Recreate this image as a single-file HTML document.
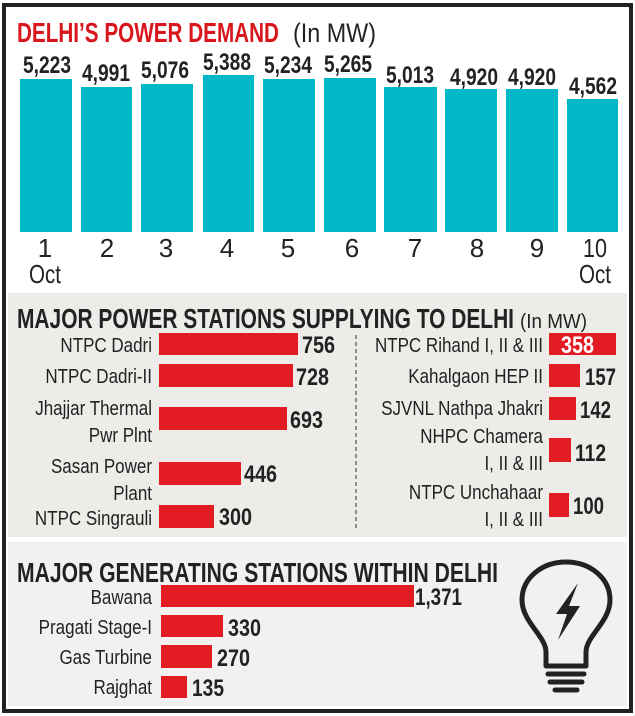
<!DOCTYPE html>
<html><head><meta charset="utf-8"><style>
html,body{margin:0;padding:0;background:#fff}
svg{display:block}
text{font-family:"Liberation Sans",sans-serif}
.v{font-weight:bold;font-size:24px;fill:#222}
.d{font-size:26px;fill:#222}
.l{font-size:20px;fill:#222}
.h{font-weight:bold;font-size:28px;fill:#222}
</style></head><body>
<svg width="635" height="716" viewBox="0 0 635 716" xmlns="http://www.w3.org/2000/svg">
<rect x="0" y="0" width="635" height="716" fill="#fff"/>
<rect x="8" y="293" width="619" height="244" fill="#eeece9"/>
<rect x="8" y="542" width="619" height="164" fill="#f3f1ef"/>
<rect x="4" y="5" width="627" height="706" fill="none" stroke="#222" stroke-width="4"/>
<text x="17" y="42" font-weight="bold" font-size="28" fill="#d9161c" textLength="262" lengthAdjust="spacingAndGlyphs">DELHI’S POWER DEMAND</text>
<text x="293" y="42" font-size="27" fill="#222" textLength="83" lengthAdjust="spacingAndGlyphs">(In MW)</text>
<g fill="#00b8c8">
<rect x="20" y="79" width="52" height="153"/>
<rect x="81" y="87" width="51" height="145"/>
<rect x="141" y="84" width="52" height="148"/>
<rect x="203" y="75" width="51" height="157"/>
<rect x="263" y="79" width="52" height="153"/>
<rect x="324" y="78" width="52" height="154"/>
<rect x="384" y="87" width="53" height="145"/>
<rect x="445" y="89" width="52" height="143"/>
<rect x="506" y="89" width="52" height="143"/>
<rect x="567" y="99" width="51" height="133"/>
</g>
<g class="v" text-anchor="middle">
<text x="47" y="73" textLength="48" lengthAdjust="spacingAndGlyphs">5,223</text>
<text x="106" y="81" textLength="48" lengthAdjust="spacingAndGlyphs">4,991</text>
<text x="165" y="78" textLength="48" lengthAdjust="spacingAndGlyphs">5,076</text>
<text x="227" y="70" textLength="48" lengthAdjust="spacingAndGlyphs">5,388</text>
<text x="288" y="73" textLength="48" lengthAdjust="spacingAndGlyphs">5,234</text>
<text x="348" y="72" textLength="48" lengthAdjust="spacingAndGlyphs">5,265</text>
<text x="410" y="83" textLength="48" lengthAdjust="spacingAndGlyphs">5,013</text>
<text x="474" y="85" textLength="48" lengthAdjust="spacingAndGlyphs">4,920</text>
<text x="532" y="85" textLength="48" lengthAdjust="spacingAndGlyphs">4,920</text>
<text x="593" y="94" textLength="48" lengthAdjust="spacingAndGlyphs">4,562</text>
</g>
<g class="d" text-anchor="middle">
<text x="45" y="257">1</text><text x="107" y="257">2</text><text x="166" y="257">3</text>
<text x="227" y="257">4</text><text x="288" y="257">5</text><text x="352" y="257">6</text>
<text x="415" y="257">7</text><text x="477" y="257">8</text><text x="537" y="257">9</text>
<text x="595" y="257" textLength="24" lengthAdjust="spacingAndGlyphs">10</text>
<text x="45" y="283" textLength="32" lengthAdjust="spacingAndGlyphs">Oct</text>
<text x="595" y="283" textLength="32" lengthAdjust="spacingAndGlyphs">Oct</text>
</g>
<text x="17" y="328" class="h" textLength="497" lengthAdjust="spacingAndGlyphs">MAJOR POWER STATIONS SUPPLYING TO DELHI</text>
<text x="520" y="328" font-size="20" fill="#222" textLength="67" lengthAdjust="spacingAndGlyphs">(In MW)</text>
<g fill="#e31b23">
<rect x="159" y="333" width="139" height="22"/>
<rect x="159" y="364" width="134" height="23"/>
<rect x="159" y="407" width="128" height="23"/>
<rect x="159" y="462" width="82" height="23"/>
<rect x="159" y="505" width="55" height="23"/>
<rect x="549" y="333" width="67" height="22"/>
<rect x="549" y="364" width="31" height="23"/>
<rect x="549" y="397" width="27" height="23"/>
<rect x="549" y="438" width="22" height="24"/>
<rect x="549" y="493" width="20" height="24"/>
</g>
<line x1="356" y1="335" x2="356" y2="530" stroke="#333" stroke-width="1" stroke-dasharray="4,3"/>
<g class="l" text-anchor="end" transform="translate(152,0) scale(0.85,1)">
<text x="0" y="352">NTPC Dadri</text>
<text x="0" y="383">NTPC Dadri-II</text>
<text x="0" y="415">Jhajjar Thermal</text>
<text x="0" y="442">Pwr Plnt</text>
<text x="0" y="473">Sasan Power</text>
<text x="0" y="500">Plant</text>
<text x="0" y="525">NTPC Singrauli</text>
</g>
<g class="l" text-anchor="end" transform="translate(543,0) scale(0.85,1)">
<text x="0" y="352">NTPC Rihand I, II &amp; III</text>
<text x="0" y="383">Kahalgaon HEP II</text>
<text x="0" y="415">SJVNL Nathpa Jhakri</text>
<text x="0" y="443">NHPC Chamera</text>
<text x="0" y="470">I, II &amp; III</text>
<text x="0" y="499">NTPC Unchahaar</text>
<text x="0" y="526">I, II &amp; III</text>
</g>
<g class="v">
<text x="302" y="353" textLength="33" lengthAdjust="spacingAndGlyphs">756</text>
<text x="296" y="385" textLength="33" lengthAdjust="spacingAndGlyphs">728</text>
<text x="290" y="428" textLength="33" lengthAdjust="spacingAndGlyphs">693</text>
<text x="244" y="482" textLength="33" lengthAdjust="spacingAndGlyphs">446</text>
<text x="219" y="525" textLength="33" lengthAdjust="spacingAndGlyphs">300</text>
<text x="561" y="353" fill="#fff" textLength="33" lengthAdjust="spacingAndGlyphs">358</text>
<text x="585" y="385" textLength="31" lengthAdjust="spacingAndGlyphs">157</text>
<text x="580" y="418" textLength="31" lengthAdjust="spacingAndGlyphs">142</text>
<text x="575" y="461" textLength="31" lengthAdjust="spacingAndGlyphs">112</text>
<text x="573" y="514" textLength="31" lengthAdjust="spacingAndGlyphs">100</text>
</g>
<text x="17" y="582" class="h" textLength="481" lengthAdjust="spacingAndGlyphs">MAJOR GENERATING STATIONS WITHIN DELHI</text>
<g fill="#e31b23">
<rect x="161" y="585" width="253" height="22"/>
<rect x="161" y="615" width="62" height="22"/>
<rect x="161" y="645" width="51" height="23"/>
<rect x="161" y="676" width="26" height="22"/>
</g>
<g class="l" text-anchor="end" transform="translate(152,0) scale(0.85,1)">
<text x="0" y="604">Bawana</text>
<text x="0" y="634">Pragati Stage-I</text>
<text x="0" y="664">Gas Turbine</text>
<text x="0" y="694">Rajghat</text>
</g>
<g class="v">
<text x="415" y="605" textLength="47" lengthAdjust="spacingAndGlyphs">1,371</text>
<text x="228" y="636" textLength="33" lengthAdjust="spacingAndGlyphs">330</text>
<text x="217" y="666" textLength="33" lengthAdjust="spacingAndGlyphs">270</text>
<text x="192" y="696" textLength="32" lengthAdjust="spacingAndGlyphs">135</text>
</g>
<g fill="none" stroke="#222" stroke-width="5" stroke-linecap="round">
<path d="M546,666 L546,652 C546,636 522,622 522,600 C522,578 542,562 566,562 C590,562 610,578 610,600 C610,622 586,636 586,652 L586,666 Z" stroke-linejoin="round"/>
<line x1="548" y1="674" x2="584" y2="674"/>
<line x1="550" y1="682" x2="582" y2="682"/>
<line x1="555" y1="690" x2="577" y2="690"/>
</g>
<path d="M578,583 L556,614 L567,614 L558,640 L580,606 L569,606 Z" fill="#222"/>
</svg>
</body></html>
